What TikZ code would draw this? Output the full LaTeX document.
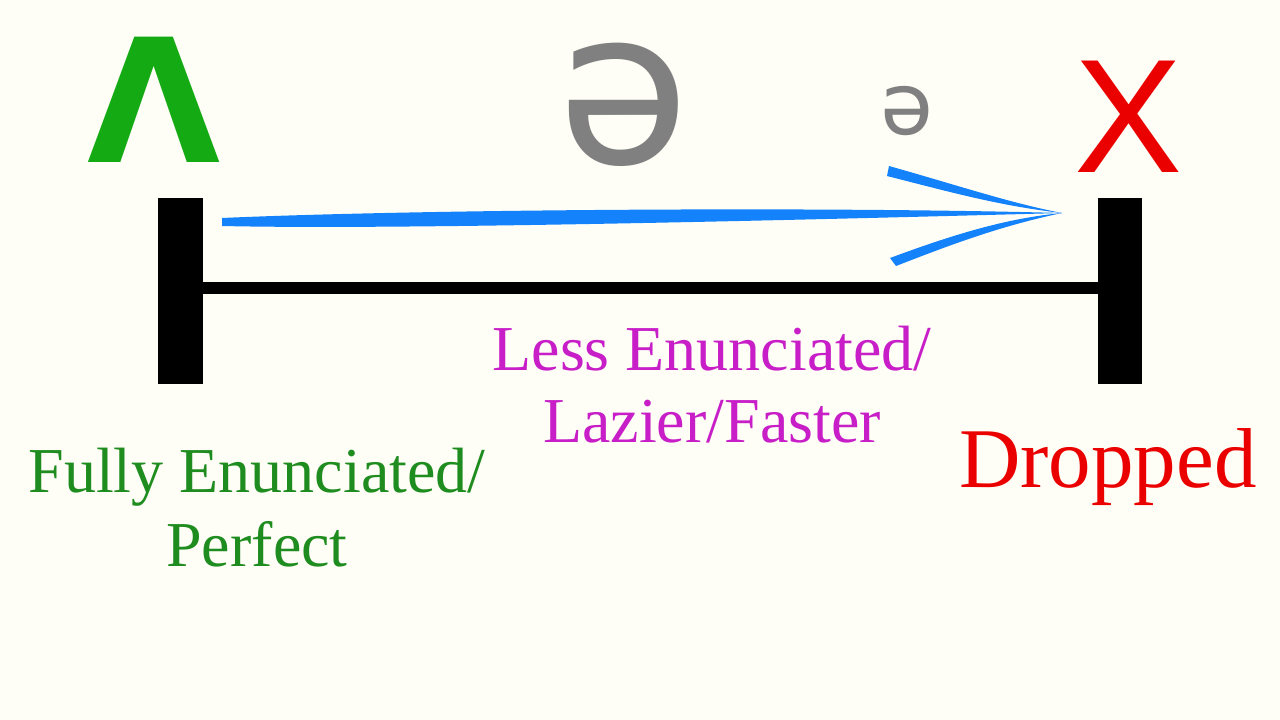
\documentclass[tikz,border=0pt]{standalone}
\usepackage{fontspec}
\setmainfont{Liberation Serif}
\newfontfamily\symf{DejaVu Sans}
\newfontfamily\arial{Liberation Sans}
\begin{document}
\begin{tikzpicture}[x=1pt,y=-1pt,
  bar/.style={fill=black},
  glyph/.style={anchor=base,inner sep=0pt},
  lbl/.style={anchor=base,inner sep=0pt,font=\fontsize{64}{74}\selectfont,align=center},
  blue/.style={fill={rgb,255:red,20;green,130;blue,250}}]
\definecolor{bg}{RGB}{254,254,246}
\fill[bg] (0,0) rectangle (1280,720);
\useasboundingbox (0,0) rectangle (1280,720);
% bars
\fill[bar] (158,198) rectangle (203,384);
\fill[bar] (1098,198) rectangle (1142,384);
\fill[bar] (203,282) rectangle (1098,294);
\coordinate (L) at (203,288); \coordinate (R) at (1098,288);
% blue arrow
\fill[blue] (222,218) .. controls (400,210) and (800,206) .. (1062,213)
  .. controls (800,220) and (400,230) .. (222,226) -- cycle;
\fill[blue] (889,166) .. controls (960,186) and (1010,203) .. (1062,213)
  .. controls (1000,206) and (950,192) .. (887,176) -- cycle;
\fill[blue] (890,258) .. controls (960,232) and (1010,218) .. (1062,213)
  .. controls (1000,226) and (950,245) .. (896,266) -- cycle;
% symbols
\node[glyph,text={rgb,255:red,20;green,170;blue,20},font=\symf\bfseries\fontsize{172}{172}\selectfont] (lam) at (154,162) {Λ};
\node[glyph,text=gray,font=\symf\fontsize{215}{215}\selectfont] (schwa) at (624,163) {ə};
\node[glyph,text=gray,font=\symf\fontsize{86}{86}\selectfont] (schwa2) at (907,134) {ə};
\node[glyph,text={rgb,255:red,235;green,0;blue,0},font=\arial\fontsize{162}{162}\selectfont] (x) at (1129,172) {X};
% labels
\node[lbl,text={rgb,255:red,30;green,140;blue,30}] (full) at (257,492) {Fully Enunciated/};
\node[lbl,text={rgb,255:red,30;green,140;blue,30}] (perf) at (257,566) {Perfect};
\node[lbl,text={rgb,255:red,200;green,30;blue,200}] (less) at (712,370) {Less Enunciated/};
\node[lbl,text={rgb,255:red,200;green,30;blue,200}] (lazy) at (712,442) {Lazier/Faster};
\node[lbl,text={rgb,255:red,235;green,0;blue,0},font=\fontsize{85}{90}\selectfont] (drop) at (1108,487) {Dropped};
\end{tikzpicture}
\end{document}
